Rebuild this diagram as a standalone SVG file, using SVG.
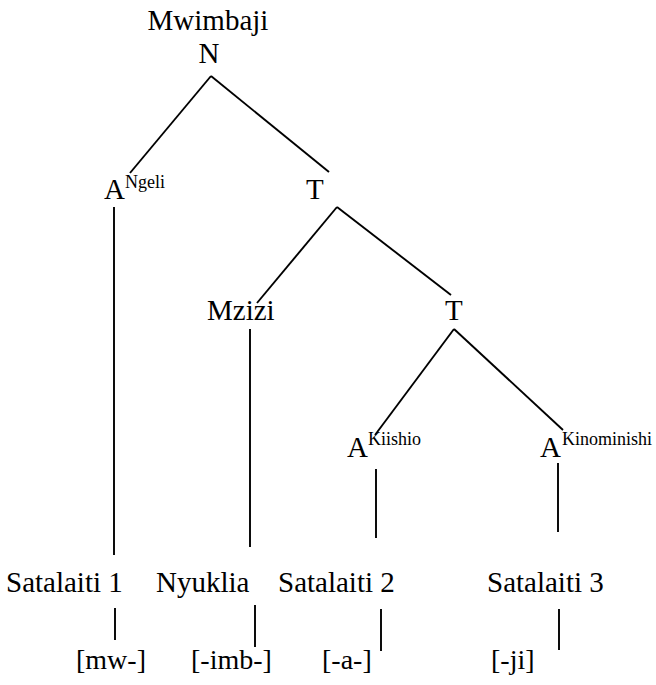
<svg xmlns="http://www.w3.org/2000/svg" width="656" height="685" viewBox="0 0 656 685">
<style>
.t{font-family:"Liberation Serif","Times New Roman",serif;font-size:29px;fill:#000}
.b{font-family:"Liberation Serif","Times New Roman",serif;font-size:28px;fill:#000}
.s{font-family:"Liberation Serif","Times New Roman",serif;font-size:18px;fill:#000}
.e{stroke:#000;stroke-width:1.9;fill:none}
</style>
<rect width="656" height="685" fill="#fff"/>
<g id="connectors">
<line class="e" x1="211" y1="76" x2="130" y2="173"/>
<line class="e" x1="211" y1="76" x2="329" y2="172"/>
<line class="e" x1="114" y1="207" x2="114" y2="555"/>
<line class="e" x1="337" y1="207" x2="257" y2="303"/>
<line class="e" x1="337" y1="207" x2="451" y2="295"/>
<line class="e" x1="250" y1="329" x2="250" y2="547"/>
<line class="e" x1="454" y1="329" x2="375" y2="435"/>
<line class="e" x1="454" y1="329" x2="563" y2="430"/>
<line class="e" x1="376" y1="469" x2="376" y2="538"/>
<line class="e" x1="558" y1="463" x2="558" y2="532"/>
<line class="e" x1="115" y1="608" x2="115" y2="640"/>
<line class="e" x1="255" y1="605" x2="255" y2="647"/>
<line class="e" x1="381" y1="609" x2="381" y2="651"/>
<line class="e" x1="559" y1="609" x2="559" y2="650"/>
</g>
<g id="root"><text class="t" x="208" y="30" text-anchor="middle">Mwimbaji</text><text class="t" x="209" y="63" text-anchor="middle">N</text></g>
<g id="a-ngeli"><text class="t" x="104" y="199">A</text><text class="s" x="125" y="188">Ngeli</text></g>
<g id="t1"><text class="t" x="306" y="199">T</text></g>
<g id="mzizi"><text class="t" x="207" y="320">Mzizi</text></g>
<g id="t2"><text class="t" x="445" y="320">T</text></g>
<g id="a-kiishio"><text class="t" x="347" y="457">A</text><text class="s" x="368" y="445">Kiishio</text></g>
<g id="a-kinominishi"><text class="t" x="540" y="457">A</text><text class="s" x="562" y="445">Kinominishi</text></g>
<g id="sat1"><text class="t" x="6" y="592">Satalaiti 1</text></g>
<g id="nyuklia"><text class="t" x="156" y="592">Nyuklia</text></g>
<g id="sat2"><text class="t" x="278" y="592">Satalaiti 2</text></g>
<g id="sat3"><text class="t" x="487" y="592">Satalaiti 3</text></g>
<g id="m1"><text class="b" x="76" y="669">[mw-]</text></g>
<g id="m2"><text class="b" x="191" y="669">[-imb-]</text></g>
<g id="m3"><text class="b" x="322" y="669">[-a-]</text></g>
<g id="m4"><text class="b" x="491" y="669">[-ji]</text></g>
</svg>
